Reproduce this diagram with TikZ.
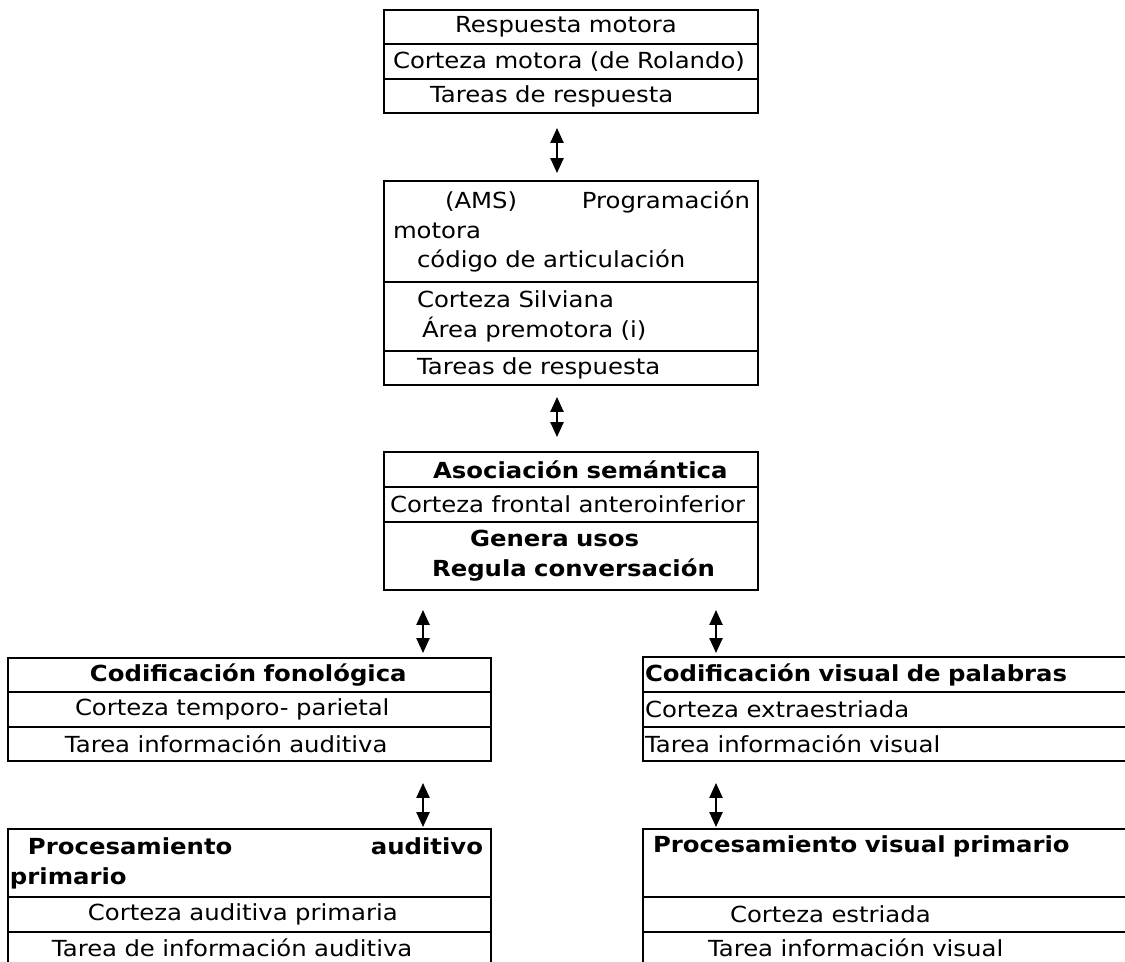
\documentclass[tikz,border=0pt]{standalone}
\usepackage{fontspec}
\setmainfont{DejaVu Sans}[FakeStretch=1.1]
\usetikzlibrary{arrows.meta,positioning}
\newdimen\px \px=0.02cm
\tikzset{
  row/.style 2 args={draw, line width=1.1pt, inner sep=0pt, outer sep=0pt, align=left,
    minimum width=#1\px, text width=#1\px, minimum height=#2\px},
  link/.style={{Triangle[width=7.5pt,length=8.5pt]}-{Triangle[width=7.5pt,length=8.5pt]}, line width=1pt}
}

\begin{document}
\begin{tikzpicture}[x=0.02cm, y=-0.02cm, font=\fontsize{12.6}{17}\selectfont]
		%%%%% START %%%%%
		\useasboundingbox (0,0) rectangle (1125,962);
		\coordinate (midx) at (557,0);
		\coordinate (leftx) at (423,0);
		\coordinate (rightx) at (716,0);
		
		\node[row={374}{34}, anchor=north west] (motora) at (384,10) {\hspace*{71\px}Respuesta motora};
		\node[row={374}{35}, below=0pt of motora] (rolando) {\hspace*{9\px}Corteza motora (de Rolando)};
		\node[row={374}{34}, below=0pt of rolando] (tareaMot) {\hspace*{46\px}Tareas de respuesta};
		
		\node[row={374}{101}, anchor=north west] (ams) at (384,181) {\hspace*{61\px}(AMS)\hfill Programación\hspace*{8\px}\mbox{}\\\hspace*{9\px}motora\\\hspace*{33\px}código de articulación};
		\node[row={374}{69}, below=0pt of ams] (silviana) {\hspace*{33\px}Corteza Silviana\\\hspace*{38\px}Área premotora (i)};
		\node[row={374}{34}, below=0pt of silviana] (tareaAms) {\hspace*{33\px}Tareas de respuesta};
		
		\node[row={374}{35}, anchor=north west] (asoc) at (384,452) {\hspace*{49\px}\textbf{Asociación semántica}};
		\node[row={374}{35}, below=0pt of asoc] (frontal) {\hspace*{6\px}Corteza frontal anteroinferior};
		\node[row={374}{68}, below=0pt of frontal] (genera) {\hspace*{86\px}\textbf{Genera usos}\\\hspace*{48\px}\textbf{Regula conversación}};
		
		\node[row={483}{34}, anchor=north west] (fono) at (8,658) {\hspace*{82\px}\textbf{Codificación fonológica}};
		\node[row={483}{35}, below=0pt of fono] (temporo) {\hspace*{67\px}Corteza temporo- parietal};
		\node[row={483}{34}, below=0pt of temporo] (tareaFono) {\hspace*{57\px}Tarea información auditiva};
		
		\node[row={500}{35}, anchor=north west] (visPal) at (643,657) {\hspace*{2\px}\textbf{Codificación visual de palabras}};
		\node[row={500}{35}, below=0pt of visPal] (extra) {\hspace*{2\px}Corteza extraestriada};
		\node[row={500}{34}, below=0pt of extra] (tareaVis) {\hspace*{2\px}Tarea información visual};
		
		\node[row={483}{68}, anchor=north west] (procAud) at (8,829) {\hspace*{20\px}\textbf{Procesamiento}\hfill\textbf{auditivo}\hspace*{8\px}\mbox{}\\\hspace*{2\px}\textbf{primario}};
		\node[row={483}{35}, below=0pt of procAud] (audPrim) {\hspace*{80\px}Corteza auditiva primaria};
		\node[row={483}{31}, below=0pt of audPrim] (tareaAud) {\hspace*{44\px}Tarea de información auditiva};
		
		\node[row={500}{68}, anchor=north west] (procVis) at (643,829) {\hspace*{10\px}\textbf{Procesamiento visual primario}\\\strut};
		\node[row={500}{35}, below=0pt of procVis] (estriada) {\hspace*{87\px}Corteza estriada};
		\node[row={500}{31}, below=0pt of estriada] (tareaVisP) {\hspace*{65\px}Tarea información visual};
		
		\draw[link, shorten <=15\px, shorten >=8\px] (tareaMot.south -| midx) -- (ams.north -| midx);
		\draw[link, shorten <=12\px, shorten >=15\px] (tareaAms.south -| midx) -- (asoc.north -| midx);
		\draw[link, shorten <=20\px, shorten >=5\px] (genera.south -| leftx) -- (fono.north -| leftx);
		\draw[link, shorten <=20\px, shorten >=4\px] (genera.south -| rightx) -- (visPal.north -| rightx);
		\draw[link, shorten <=22\px, shorten >=2\px] (tareaFono.south -| leftx) -- (procAud.north -| leftx);
		\draw[link, shorten <=22\px, shorten >=2\px] (tareaVis.south -| rightx) -- (procVis.north -| rightx);
		%%%%% END %%%%%
\end{tikzpicture}
\end{document}
